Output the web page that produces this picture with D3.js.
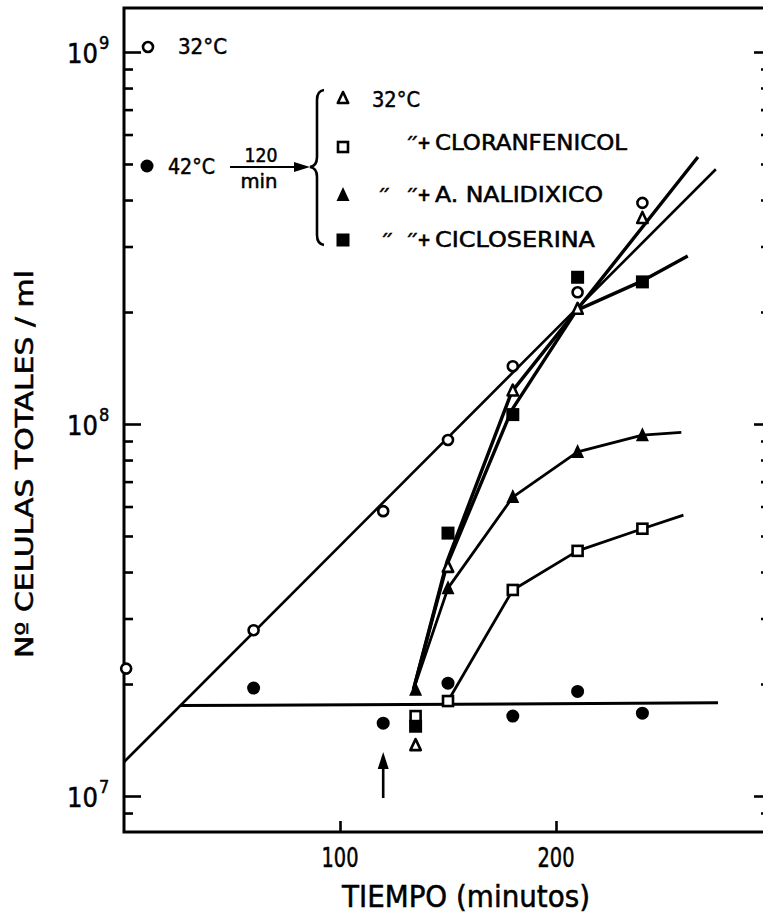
<!DOCTYPE html>
<html><head><meta charset="utf-8">
<script src="https://cdn.jsdelivr.net/npm/d3@7/dist/d3.min.js"></script>
<style>body{margin:0;background:#fff}svg{display:block}text{stroke:#000;stroke-width:0.5px}</style>
</head><body><svg id="c" width="763" height="913"></svg>
<script>
// ---------- DATA ----------
const xTicks = [100, 200];
const yDecades = [7, 8, 9];

// 32 °C continuous culture (open circles)
const c32Time  = [1, 60, 120, 150, 180, 210, 240];
const c32Cells = [2.2e7, 2.79e7, 5.83e7, 9.06e7, 1.43e8, 2.26e8, 3.93e8];
// 42 °C culture (filled circles)
const c42Time  = [60, 120, 150, 180, 210, 240];
const c42Cells = [1.95e7, 1.57e7, 2.01e7, 1.64e7, 1.91e7, 1.67e7];

// shifted back to 32 °C after 120 min at 42 °C
const shiftTime   = [135, 150, 180, 210, 240];
const t32Cells    = [1.37e7, 4.13e7, 1.23e8, 2.04e8, 3.58e8];   // open triangles
const cloranCells = [1.64e7, 1.80e7, 3.58e7, 4.56e7, 5.23e7];   // open squares
const nalidCells  = [1.93e7, 3.62e7, 6.36e7, 8.41e7, 9.33e7];   // filled triangles
const cicloCells  = [1.54e7, 5.09e7, 1.06e8, 2.48e8, 2.41e8];   // filled squares

// drawn (hand-fitted) lines
const fit32Time  = [0, 274];
const fit32Cells = [1.234e7, 4.84e8];
const fit42Time  = [26.4, 275];
const fit42Cells = [1.75e7, 1.78e7];
const fitT32Time   = [134, 149.5, 179.5, 209.5, 265.7];
const fitT32Cells  = [1.93e7, 4.26e7, 1.22e8, 2.02e8, 5.22e8];
const fitCicloTime  = [134, 149.5, 179.5, 209.5, 239, 261];
const fitCicloCells = [1.93e7, 4.18e7, 1.09e8, 2.02e8, 2.41e8, 2.83e8];
const fitNalidTime  = [134, 150, 180, 210, 240, 258];
const fitNalidCells = [1.93e7, 3.62e7, 6.36e7, 8.41e7, 9.33e7, 9.5e7];
const fitCloranTime  = [150, 180, 210, 240, 259];
const fitCloranCells = [1.80e7, 3.58e7, 4.56e7, 5.23e7, 5.69e7];

const shiftArrowTime = 120;

// ---------- SETUP ----------
const svg = d3.select("#c");
const FONT = "'Liberation Sans Narrow','DejaVu Sans Condensed','Liberation Sans',Arial,sans-serif";
const x = d3.scaleLinear().domain([0, 300]).range([124, 772]);
const y = d3.scaleLog().domain([1e7, 1e9]).range([796, 52]);
const pL = 124, pR = 770, pT = 8, pB = 832;

const zip = (a, b) => a.map((v, i) => [v, b[i]]);

// ---------- AXES ----------
const minorVals = [];
[6, 7, 8].forEach(d => { for (let k = 2; k <= 9; k++) minorVals.push(k * Math.pow(10, d)); });
const minorIn = minorVals.filter(v => y(v) > pT && y(v) < pB);
const majorVals = yDecades.map(d => Math.pow(10, d));

function styleAxis(g) { g.select(".domain").remove(); g.selectAll("line").attr("stroke", "#000").attr("stroke-width", 2.6); }

svg.append("g").attr("transform", `translate(${pL},0)`)
  .call(d3.axisRight(y).tickValues(minorIn).tickSize(9).tickFormat("")).call(styleAxis);
svg.append("g").attr("transform", `translate(${pL},0)`)
  .call(d3.axisRight(y).tickValues(majorVals).tickSize(17).tickFormat("")).call(styleAxis);
svg.append("g").attr("transform", `translate(${pR},0)`)
  .call(d3.axisLeft(y).tickValues(minorIn).tickSize(9).tickFormat("")).call(styleAxis);
svg.append("g").attr("transform", `translate(${pR},0)`)
  .call(d3.axisLeft(y).tickValues(majorVals).tickSize(16).tickFormat("")).call(styleAxis);
svg.append("g").attr("transform", `translate(0,${pB})`)
  .call(d3.axisTop(x).tickValues(xTicks).tickSize(11).tickFormat("")).call(styleAxis);

// frame
svg.append("path").attr("d", `M${pR+20},${pT}H${pL}V${pB}H${pR+20}`)
  .attr("fill", "none").attr("stroke", "#000").attr("stroke-width", 3);

// x tick labels
svg.selectAll(".xl").data(xTicks).join("text")
  .attr("x", d => x(d)).attr("y", 867).attr("text-anchor", "middle")
  .attr("font-family", FONT).attr("font-size", 27).attr("textLength", 37).attr("lengthAdjust", "spacingAndGlyphs").text(d => d);

// y tick labels 10^n
yDecades.forEach(d => {
  const yy = y(Math.pow(10, d));
  svg.append("text").attr("x", 98).attr("y", yy + 11).attr("text-anchor", "end")
    .attr("font-family", FONT).attr("font-size", 27).text("10");
  svg.append("text").attr("x", 99).attr("y", yy - 3).attr("text-anchor", "start")
    .attr("font-family", FONT).attr("font-size", 18).text(d);
});

// axis titles
svg.append("text").attr("x", 342).attr("y", 907).attr("font-family", FONT).attr("font-size", 30)
  .attr("textLength", 248).attr("lengthAdjust", "spacingAndGlyphs").text("TIEMPO (minutos)");
svg.append("text").attr("transform", "translate(33,658) rotate(-90)")
  .attr("font-family", FONT).attr("font-size", 25)
  .attr("textLength", 388).attr("lengthAdjust", "spacingAndGlyphs").text("Nº CELULAS  TOTALES / ml");

// ---------- LINES ----------
const line = d3.line().x(d => x(d[0])).y(d => y(d[1]));
const drawLine = (t, c, w) => svg.append("path").datum(zip(t, c)).attr("d", line)
  .attr("fill", "none").attr("stroke", "#000").attr("stroke-width", w).attr("stroke-linejoin", "round");
drawLine(fit32Time, fit32Cells, 2.6);
drawLine(fit42Time, fit42Cells, 3);
drawLine(fitT32Time, fitT32Cells, 3.4);
drawLine(fitCicloTime, fitCicloCells, 3.4);
drawLine(fitNalidTime, fitNalidCells, 2.8);
drawLine(fitCloranTime, fitCloranCells, 2.8);

// ---------- MARKERS ----------
function marker(g, type, cx, cy) {
  const s = g.append("g").attr("transform", `translate(${cx},${cy})`);
  if (type === "oc") s.append("circle").attr("r", 5).attr("fill", "#fff").attr("stroke", "#000").attr("stroke-width", 2.6);
  if (type === "fc") s.append("circle").attr("r", 6.5).attr("fill", "#000");
  if (type === "os") s.append("rect").attr("x", -5).attr("y", -5).attr("width", 10).attr("height", 10).attr("fill", "#fff").attr("stroke", "#000").attr("stroke-width", 2.6);
  if (type === "fs") s.append("rect").attr("x", -6.5).attr("y", -6.5).attr("width", 13).attr("height", 13).attr("fill", "#000");
  if (type === "ot") s.append("path").attr("d", "M0,-6L5.2,5H-5.2Z").attr("fill", "#fff").attr("stroke", "#000").attr("stroke-width", 2.6).attr("stroke-linejoin", "round");
  if (type === "ft") s.append("path").attr("d", "M0,-8L6.5,6H-6.5Z").attr("fill", "#000");
}
const series = [
  ["fc", c42Time, c42Cells],
  ["fs", shiftTime, cicloCells],
  ["os", shiftTime, cloranCells],
  ["ft", shiftTime, nalidCells],
  ["ot", shiftTime, t32Cells],
  ["oc", c32Time, c32Cells]
];
series.forEach(([type, t, c]) => zip(t, c).forEach(d => marker(svg, type, x(d[0]), y(d[1]))));

// shift arrow at 120 min
const ax = x(shiftArrowTime);
svg.append("line").attr("x1", ax).attr("x2", ax).attr("y1", 798).attr("y2", 765).attr("stroke", "#000").attr("stroke-width", 2.6);
svg.append("path").attr("d", `M${ax},752L${ax+5.5},769L${ax-5.5},769Z`).attr("fill", "#000");

// ---------- LEGEND / ANNOTATIONS ----------
marker(svg, "oc", 148, 47);
marker(svg, "fc", 147, 166);
const txt = (xx, yy, s, size, len, anchor) => {
  const t = svg.append("text").attr("x", xx).attr("y", yy).attr("font-family", FONT).attr("font-size", size)
    .attr("text-anchor", anchor || "start").text(s);
  if (len) t.attr("textLength", len).attr("lengthAdjust", "spacingAndGlyphs");
  return t;
};
txt(178, 54, "32°C", 22, 49);
txt(168, 174, "42°C", 22, 47);
txt(261, 162, "120", 20, 33, "middle");
txt(259, 188, "min", 20, 37, "middle");
svg.append("line").attr("x1", 230).attr("x2", 296).attr("y1", 167).attr("y2", 167).attr("stroke", "#000").attr("stroke-width", 2.2);
svg.append("path").attr("d", "M310,167L294,162L294,172Z").attr("fill", "#000");
// brace
svg.append("path").attr("d", "M324,90Q317,91 317,100L317,157Q317,166 310,167Q317,168 317,177L317,235Q317,244 324,245")
  .attr("fill", "none").attr("stroke", "#000").attr("stroke-width", 2.6);

const legRows = [
  ["ot", 98, 107, "32°C", 372, 48, []],
  ["os", 147, 150, "CLORANFENICOL", 435, 192, [406]],
  ["ft", 195, 202, "A. NALIDIXICO", 435, 168, [378, 406]],
  ["fs", 240, 247, "CICLOSERINA", 435, 160, [381, 406]]
];
legRows.forEach(([type, my, base, label, lx, len, dittos]) => {
  marker(svg, type, 343, my);
  txt(lx, base, label, 22, len);
  if (label !== "32°C") {
    dittos.forEach(dx => txt(dx, base - 2, "״", 22));
    txt(424, base - 1, "+", 18, null, "middle").attr("font-weight", "bold");
  }
});
</script></body></html>
